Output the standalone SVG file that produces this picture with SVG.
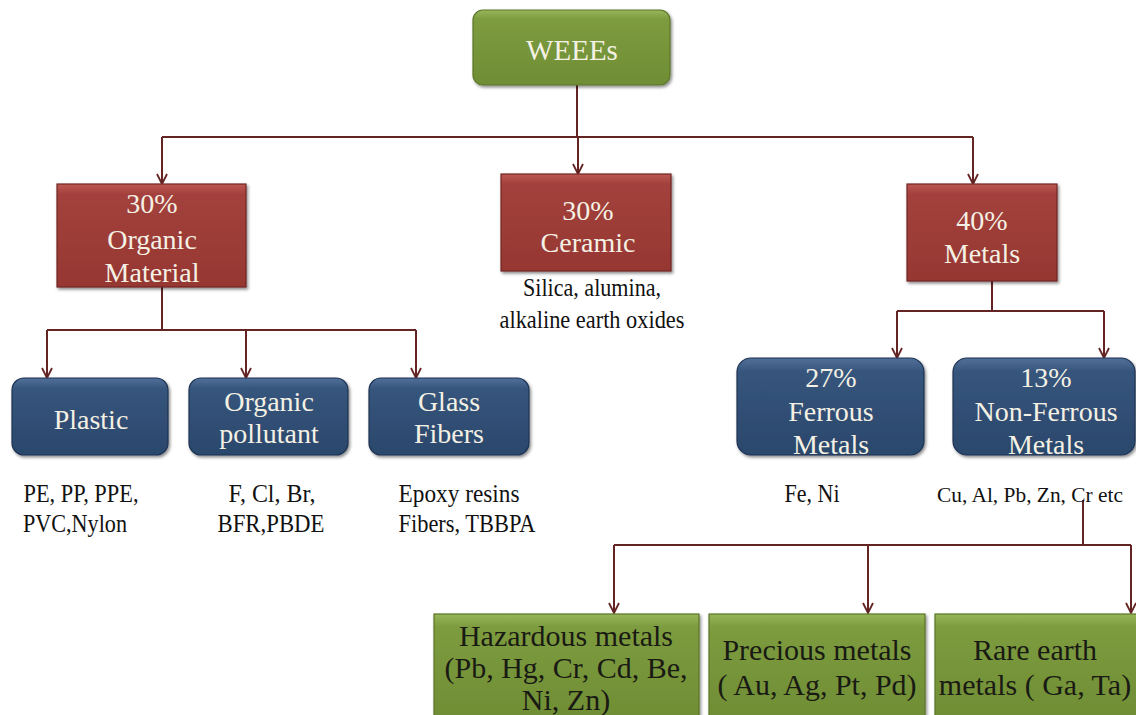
<svg xmlns="http://www.w3.org/2000/svg" width="1136" height="715" viewBox="0 0 1136 715">
<defs>
<linearGradient id="gGreen" x1="0" y1="0" x2="0" y2="1"><stop offset="0" stop-color="#98b55a"/><stop offset="0.12" stop-color="#7d9c3f"/><stop offset="1" stop-color="#6f8d34"/></linearGradient>
<linearGradient id="gRed" x1="0" y1="0" x2="0" y2="1"><stop offset="0" stop-color="#bd5853"/><stop offset="0.1" stop-color="#a3413c"/><stop offset="1" stop-color="#963732"/></linearGradient>
<linearGradient id="gBlue" x1="0" y1="0" x2="0" y2="1"><stop offset="0" stop-color="#51709a"/><stop offset="0.14" stop-color="#36557c"/><stop offset="1" stop-color="#2b476c"/></linearGradient>
<filter id="sh" x="-5%" y="-5%" width="110%" height="115%"><feDropShadow dx="1.5" dy="2" stdDeviation="1.5" flood-color="#000" flood-opacity="0.45"/></filter>
<marker id="arr" viewBox="0 0 12 12" refX="11" refY="6" markerWidth="12" markerHeight="12" markerUnits="userSpaceOnUse" orient="auto">
<path d="M1,1 L11,6 L1,11" fill="none" stroke="#632423" stroke-width="1.8"/>
</marker>
</defs>
<style>
.green{fill:url(#gGreen);stroke:#5b7629;stroke-width:1.2;filter:url(#sh)}
.red{fill:url(#gRed);stroke:#722623;stroke-width:1.2;filter:url(#sh)}
.blue{fill:url(#gBlue);stroke:#1e3352;stroke-width:1.2;filter:url(#sh)}
.wt{font-family:"Liberation Serif","Times New Roman",serif;font-size:28px;fill:#f4f1e4;text-anchor:middle}
.dt{font-family:"Liberation Serif","Times New Roman",serif;font-size:30px;fill:#1a1a14;text-anchor:middle}
.lb{font-family:"Liberation Serif","Times New Roman",serif;font-size:25px;fill:#111;text-anchor:middle}
.ln{fill:none;stroke:#632423;stroke-width:2}
.lnA{fill:none;stroke:#632423;stroke-width:2;marker-end:url(#arr)}
</style>
<rect width="1136" height="715" fill="#ffffff"/>
<g id="connectors">
<path class="ln" d="M577,85 V137"/>
<path class="ln" d="M162,137 H973"/>
<path class="lnA" d="M162,137 V184"/>
<path class="lnA" d="M578,137 V174"/>
<path class="lnA" d="M973,137 V184"/>
<path class="ln" d="M162,287 V330"/>
<path class="ln" d="M47,330 H416"/>
<path class="lnA" d="M47,330 V378"/>
<path class="lnA" d="M246,330 V378"/>
<path class="lnA" d="M416,330 V378"/>
<path class="ln" d="M992,281 V311"/>
<path class="ln" d="M897,311 H1104"/>
<path class="lnA" d="M897,311 V358"/>
<path class="lnA" d="M1104,311 V358"/>
<path class="ln" d="M1083,500 V545"/>
<path class="ln" d="M614,545 H1131"/>
<path class="lnA" d="M614,545 V613"/>
<path class="lnA" d="M868,545 V613"/>
<path class="lnA" d="M1131,545 V613"/>
</g>
<g id="weees">
<rect class="green" x="473" y="10" width="197" height="75" rx="10"/>
<text class="wt" x="572" y="60" style="font-size:29px">WEEEs</text>
</g>
<g id="organic-material">
<rect class="red" x="57" y="184" width="189" height="103"/>
<text class="wt" x="152" y="213">30%</text>
<text class="wt" x="152" y="249">Organic</text>
<text class="wt" x="152" y="282">Material</text>
</g>
<g id="ceramic">
<rect class="red" x="501" y="174" width="170" height="97"/>
<text class="wt" x="588" y="220">30%</text>
<text class="wt" x="588" y="252">Ceramic</text>
<text class="lb" x="592" y="296" textLength="138" lengthAdjust="spacingAndGlyphs">Silica, alumina,</text>
<text class="lb" x="592" y="328" textLength="185" lengthAdjust="spacingAndGlyphs">alkaline earth oxides</text>
</g>
<g id="metals">
<rect class="red" x="907" y="184" width="150" height="97"/>
<text class="wt" x="982" y="230">40%</text>
<text class="wt" x="982" y="263">Metals</text>
</g>
<g id="plastic">
<rect class="blue" x="12" y="378" width="156" height="77" rx="12"/>
<text class="wt" x="91" y="429">Plastic</text>
<text class="lb" x="81" y="502" textLength="115" lengthAdjust="spacingAndGlyphs">PE, PP, PPE,</text>
<text class="lb" x="75" y="532" textLength="104" lengthAdjust="spacingAndGlyphs">PVC,Nylon</text>
</g>
<g id="organic-pollutant">
<rect class="blue" x="189" y="378" width="159" height="77" rx="12"/>
<text class="wt" x="269" y="411">Organic</text>
<text class="wt" x="269" y="443">pollutant</text>
<text class="lb" x="272" y="502" textLength="87" lengthAdjust="spacingAndGlyphs">F, Cl, Br,</text>
<text class="lb" x="271" y="532" textLength="107" lengthAdjust="spacingAndGlyphs">BFR,PBDE</text>
</g>
<g id="glass-fibers">
<rect class="blue" x="369" y="378" width="160" height="77" rx="12"/>
<text class="wt" x="449" y="411">Glass</text>
<text class="wt" x="449" y="443">Fibers</text>
<text class="lb" x="459" y="502" textLength="121" lengthAdjust="spacingAndGlyphs">Epoxy resins</text>
<text class="lb" x="467" y="532" textLength="137" lengthAdjust="spacingAndGlyphs">Fibers, TBBPA</text>
</g>
<g id="ferrous">
<rect class="blue" x="737" y="358" width="187" height="97" rx="14"/>
<text class="wt" x="831" y="387">27%</text>
<text class="wt" x="831" y="421">Ferrous</text>
<text class="wt" x="831" y="454">Metals</text>
<text class="lb" x="812" y="502" textLength="55" lengthAdjust="spacingAndGlyphs">Fe, Ni</text>
</g>
<g id="non-ferrous">
<rect class="blue" x="953" y="358" width="182" height="97" rx="14"/>
<text class="wt" x="1046" y="387">13%</text>
<text class="wt" x="1046" y="421">Non-Ferrous</text>
<text class="wt" x="1046" y="454">Metals</text>
<text class="lb" x="1030" y="502" style="font-size:22px" textLength="186" lengthAdjust="spacingAndGlyphs">Cu, Al, Pb, Zn, Cr etc</text>
</g>
<g id="hazardous">
<rect class="green" x="434" y="614" width="265" height="106"/>
<text class="dt" x="566" y="646">Hazardous metals</text>
<text class="dt" x="566" y="678">(Pb, Hg, Cr, Cd, Be,</text>
<text class="dt" x="566" y="710">Ni, Zn)</text>
</g>
<g id="precious">
<rect class="green" x="709" y="614" width="216" height="106"/>
<text class="dt" x="817" y="660">Precious metals</text>
<text class="dt" x="817" y="695">( Au, Ag, Pt, Pd)</text>
</g>
<g id="rare-earth">
<rect class="green" x="935" y="614" width="206" height="106"/>
<text class="dt" x="1035" y="660">Rare earth</text>
<text class="dt" x="1035" y="695">metals ( Ga, Ta)</text>
</g>
</svg>
